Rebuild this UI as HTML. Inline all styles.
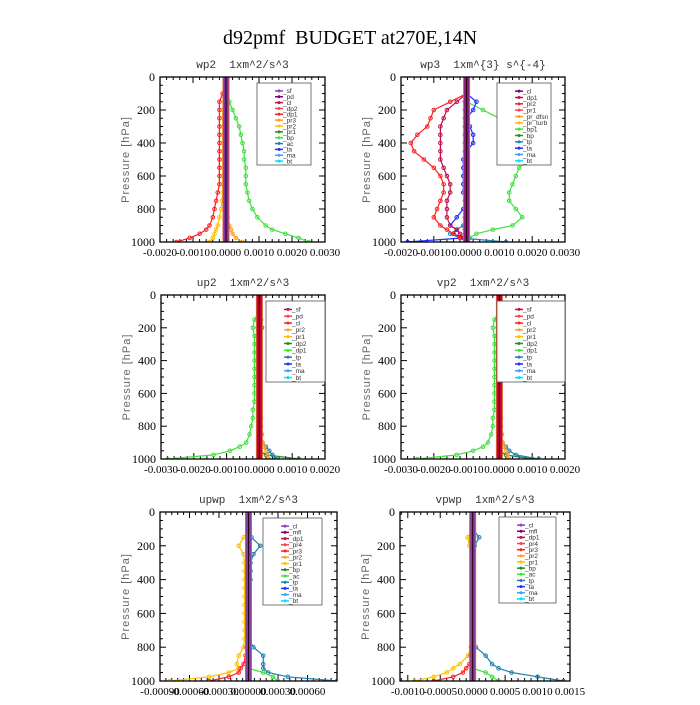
<!DOCTYPE html>
<html><head><meta charset="utf-8"><style>
body{margin:0;background:#fff}
svg text{font-family:"Liberation Serif",serif;white-space:pre}
.st{font-family:"Liberation Mono",monospace;font-size:11px;fill:#333}
.yt{font-family:"Liberation Sans",sans-serif;font-size:11px;fill:#666;letter-spacing:1px}
.lg{font-family:"Liberation Sans",sans-serif;font-size:6.5px;fill:#333}
</style></head><body>
<svg id="c" width="700" height="700">
<text x="350" y="44" text-anchor="middle" font-size="20" xml:space="preserve">d92pmf  BUDGET at270E,14N</text>
</svg>
<script>
const levels=[0,50,100,150,200,250,300,350,400,450,500,550,600,650,700,750,800,850,900,925,950,975,1000];
// values in units of 1e-4
const wp2_bp=[0,0,0,1,2,3,4,4.5,5,5.5,5.5,6,6,6,6.5,7,8,9.5,12,14,18,22,25];
const wp2_dp1=[0,0,-1,-2,-2,-2,-2,-2,-2,-2,-2,-2,-2,-2,-2.5,-3,-3.5,-4,-5,-6,-8,-11,-15];
const wp2_pr2=[0,0,0,-0.5,-1,-1,-1,-1,-1,-1,-1,-1,-1,-1,-1,-1.2,-1.5,-2,-2.5,-3,-3.5,-4,-5];
const wp2_pr3=[0,0,0,0,0,0,0,0,0,0,0,0,0,0,0,0,0.3,0.5,1,1.5,2,3,5];
const wp3_pr2=[0,0,0,-5,-10,-11,-12,-15,-17,-16,-13,-10,-8,-7,-7,-8,-9,-10,-8,-6,-4,-2,0];
const wp3_dp1=[0,0,0,-3,-6,-7,-8,-8,-8,-8,-8,-7,-6,-5,-5,-6,-6,-6,-5,-3,-2,-1,0];
const wp3_bp1=[0,0,0,0,5,10,13,16,20,21,19,16,15,14,13,13,15,17,14,8,3,1,0];
const wp3_ta=[0,0,0,3,2,0,1,2,2,0,-1,-1,-1,-1,-1,0,-1,-3,-5,-3,-4,-1,-18];
const wp3_tp=[0,0,0,0,0,0,0,0,0,0,0,0,0,0,0,0,0,0,-1,-3,-5,-2,12];
const wp3_cl=[0,0,0,-0.5,-0.5,-0.5,-0.5,-0.5,-0.5,-0.5,-0.5,-0.5,-0.5,-0.5,-0.5,-0.5,-0.5,-0.5,-0.5,-0.5,-0.5,-0.5,0];
const up2_dp1=[0,0,0,-1.5,-2,-1.5,-1.5,-1.5,-1.5,-1.5,-1.5,-1.5,-1.5,-1.5,-2,-2,-2.5,-3,-4,-6,-9,-14,-28];
const up2_dp2=[0,0,0,-0.5,-0.5,-0.5,-0.5,-0.5,-0.5,-0.5,-0.5,0,0,0,0,0,0,0,0,0,0,2,12];
const up2_tp=[0,0,0,0.5,0.8,0.3,0,0,0,0,0,0,0,0,0,0,0,0.5,1,2,3,4,5];
const up2_pr2=[0,0,0,0.3,0.3,0.3,0.3,0.3,0.3,0.3,0.3,0.3,0.3,0.3,0.3,0.5,0.5,0.8,1,1.5,2,2.5,3];
const vp2_dp1=[0,0,0,-1.5,-2,-1.5,-1.5,-1.5,-1.5,-1.5,-1.5,-1.5,-1.5,-1.5,-1.5,-2,-2,-2.5,-3.5,-5,-8,-13,-25];
const vp2_dp2=[0,0,0,-0.5,-0.5,-0.5,-0.5,-0.5,-0.5,-0.5,0,0,0,0,0,0,0,0,0,0,0,2,10];
const vp2_tp=[0,0,0,0.5,1,0.3,0,0,0,0,0,0,0,0,0,0,0,0.5,1,2,3,5,12];
const vp2_pr2=[0,0,0,0.3,0.3,0.3,0.3,0.3,0.3,0.3,0.3,0.3,0.3,0.3,0.3,0.5,0.5,0.8,1,1.5,2,2.5,3];
const upwp_pr1=[0,0,0,-0.5,-1,-0.5,-0.4,-0.4,-0.4,-0.4,-0.4,-0.4,-0.4,-0.4,-0.4,-0.4,-0.5,-1,-1.2,-1,-2,-4,-8];
const upwp_tp=[0,0,0,0.3,1.2,0.5,0.2,0.2,0.2,0,0,0,0,0,0,0,0.5,1.5,1.5,1.5,2,4,9];
const upwp_bp=[0,0,0,0,0,0,0,0,0,0,0,0,0,0,0,0,0,0,0,0,1.5,2.5,3];
const upwp_dp1=[0,0,0,0,0,0,0,0,0,0,0,0,0,0,0,0,-0.2,-0.3,-0.5,-0.8,-1,-2,-4];
const vpwp_pr1=[0,0,0,-0.8,-0.5,-0.2,0,0,0,0,0,0,0,0,0,0,-0.3,-0.7,-2,-3,-4,-6,-9];
const vpwp_tp=[0,0,0,1,0.3,0,0,0,0,0,0,0,0,0,0,0,0.5,2,3,4,6,10,14];
const vpwp_bp=[0,0,0,0,0,0,0,0,0,0,0,0,0,0,0,0,0,0,0,0,2,3,4];
const vpwp_dp1=[0,0,0,0,0,0,0,0,0,0,0,0,0,0,0,0,-0.2,-0.3,-0.5,-1,-1.5,-3,-6];
const yTicks=[0,200,400,600,800,1000];
const C={sf:"#9040c0",pd:"#800080",cl:"#c0104a",dp2:"#ff4050",dp1:"#ff2020",pr3:"#ffa020",pr2:"#ffc000",pr1:"#209020",bp:"#40e040",ac:"#2080b0",ta:"#2030ff",ma:"#40a0ff",bt:"#00e0ff"};
const NS="http://www.w3.org/2000/svg",svg=document.getElementById('c');
function mk(t,a,p){const e=document.createElementNS(NS,t);for(const k in a)e.setAttribute(k,a[k]);(p||svg).appendChild(e);return e;}
const panels=[
 {name:'wp2',title:'wp2  1xm^2/s^3',bar:'#8030a0',x0:160,x1:325,y0:77,y1:242,min:-20,max:30,ticks:[-20,-10,0,10,20,30],fmt:v=>(v/1e4).toFixed(4),
  series:[[wp2_bp,C.bp],[wp2_pr2,C.pr2],[wp2_pr3,C.pr3],[wp2_dp1,C.dp1]],
  leg:{x:257,y:83,w:54,h:82,items:[['_sf',C.sf],['_pd',C.pd],['_cl',C.cl],['_dp2',C.dp2],['_dp1',C.dp1],['_pr3',C.pr3],['_pr2',C.pr2],['_pr1',C.pr1],['_bp',C.bp],['_ac',C.ac],['_ta',C.ta],['_ma',C.ma],['_bt',C.bt]]}},
 {name:'wp3',title:'wp3  1xm^{3} s^{-4}',bar:'#802080',x0:401,x1:565,y0:77,y1:242,min:-20,max:30,ticks:[-20,-10,0,10,20,30],fmt:v=>(v/1e4).toFixed(4),
  series:[[wp3_bp1,C.bp],[wp3_ta,C.ta],[wp3_tp,C.ac],[wp3_pr2,C.dp1],[wp3_dp1,C.cl],[wp3_cl,C.pd]],
  leg:{x:497,y:83,w:54,h:82,items:[['_cl',C.pd],['_dp1',C.cl],['_pr2',C.dp1],['_pr1',C.dp2],['_pr_dfsn',C.pr3],['_pr_turb',C.pr2],['_bp1',C.bp],['_bp',C.pr1],['_tp',C.ac],['_ta',C.ta],['_ma',C.ma],['_bt',C.bt]]}},
 {name:'up2',title:'up2  1xm^2/s^3',bar:'#c00040',x0:161,x1:325,y0:295,y1:459,min:-30,max:20,ticks:[-30,-20,-10,0,10,20],fmt:v=>(v/1e4).toFixed(4),
  series:[[up2_dp1,C.bp],[up2_dp2,C.pr1],[up2_tp,C.ac],[up2_pr2,C.pr3]],
  leg:{x:266,y:301,w:59,h:81,items:[['_sf',C.cl],['_pd',C.dp2],['_cl',C.dp1],['_pr2',C.pr3],['_pr1',C.pr2],['_dp2',C.pr1],['_dp1',C.bp],['_tp',C.ac],['_ta',C.ta],['_ma',C.ma],['_bt',C.bt]]}},
 {name:'vp2',title:'vp2  1xm^2/s^3',bar:'#c00040',x0:401,x1:565,y0:295,y1:459,min:-30,max:20,ticks:[-30,-20,-10,0,10,20],fmt:v=>(v/1e4).toFixed(4),
  series:[[vp2_dp1,C.bp],[vp2_dp2,C.pr1],[vp2_tp,C.ac],[vp2_pr2,C.pr3]],
  leg:{x:497,y:301,w:68,h:81,items:[['_sf',C.cl],['_pd',C.dp2],['_cl',C.dp1],['_pr2',C.pr3],['_pr1',C.pr2],['_dp2',C.pr1],['_dp1',C.bp],['_tp',C.ac],['_ta',C.ta],['_ma',C.ma],['_bt',C.bt]]}},
 {name:'upwp',title:'upwp  1xm^2/s^3',bar:'#8040a0',x0:160,x1:337,y0:512,y1:681,min:-9,max:9,ticks:[-9,-6,-3,0,3,6],fmt:v=>(v/1e4).toFixed(5),
  series:[[upwp_pr1,C.pr2],[upwp_tp,C.ac],[upwp_bp,C.bp],[upwp_dp1,C.dp1]],
  leg:{x:263,y:518,w:59,h:87,items:[['_cl',C.sf],['_mfl',C.pd],['_dp1',C.cl],['_pr4',C.dp2],['_pr3',C.dp1],['_pr2',C.pr3],['_pr1',C.pr2],['_bp',C.pr1],['_ac',C.bp],['_tp',C.ac],['_ta',C.ta],['_ma',C.ma],['_bt',C.bt]]}},
 {name:'vpwp',title:'vpwp  1xm^2/s^3',bar:'#8040a0',x0:400,x1:570,y0:512,y1:681,min:-11.2,max:15,ticks:[-10,-5,0,5,10,15],fmt:v=>(v/1e4).toFixed(4),
  series:[[vpwp_pr1,C.pr2],[vpwp_tp,C.ac],[vpwp_bp,C.bp],[vpwp_dp1,C.dp1]],
  leg:{x:499,y:517,w:57,h:86,items:[['_cl',C.sf],['_mfl',C.pd],['_dp1',C.cl],['_pr4',C.dp2],['_pr3',C.dp1],['_pr2',C.pr3],['_pr1',C.pr2],['_bp',C.pr1],['_ac',C.bp],['_tp',C.ac],['_ta',C.ta],['_ma',C.ma],['_bt',C.bt]]}}
];
panels.forEach(P=>{
 const g=mk('g',{});
 
 
 const X=v=>P.x0+(v-P.min)/(P.max-P.min)*(P.x1-P.x0);
 const Y=p=>P.y0+p/1000*(P.y1-P.y0);
 const t=mk('text',{x:(P.x0+P.x1)/2,y:P.y0-9,'text-anchor':'middle',class:'st','xml:space':'preserve'},g);t.textContent=P.title;
 
 const yt=mk('text',{x:0,y:0,class:'yt','text-anchor':'middle',transform:`translate(${P.x0-31},${(P.y0+P.y1)/2}) rotate(-90)`},g);yt.textContent='Pressure [hPa]';
 
 for(let p=0;p<=1000;p+=50){const L=p%200==0?6:3;mk('line',{x1:P.x0,x2:P.x0+L,y1:Y(p),y2:Y(p),stroke:'#000'},g);mk('line',{x1:P.x1,x2:P.x1-L,y1:Y(p),y2:Y(p),stroke:'#000'},g);}
 const step=(P.ticks[1]-P.ticks[0])/5;
 for(let v=P.ticks[0]-5*step;v<=P.max+1e-9;v+=step){if(v<P.min-1e-9)continue;const maj=Math.abs(Math.round((v-P.ticks[0])/step)%5)==0;const L=maj?6:3;
  mk('line',{x1:X(v),x2:X(v),y1:P.y1,y2:P.y1-L,stroke:'#000'},g);mk('line',{x1:X(v),x2:X(v),y1:P.y0,y2:P.y0+L,stroke:'#000'},g);}
 yTicks.forEach(p=>{const e=mk('text',{x:P.x0-5,y:Y(p)+4,'text-anchor':'end','font-size':12},g);e.textContent=p;
  });
 P.ticks.forEach(v=>{const e=mk('text',{x:X(v),y:P.y1+14,'text-anchor':'middle','font-size':11},g);e.textContent=v==0?(0).toFixed(P.name=='upwp'?5:4):P.fmt(v);
  });
 const cp='cp'+P.name;const d=mk('clipPath',{id:cp},g);mk('rect',{x:P.x0,y:P.y0,width:P.x1-P.x0,height:P.y1-P.y0},d);
 const sg=mk('g',{'clip-path':`url(#${cp})`},g);
 P.series.forEach(([vals,col])=>{
  const pts=vals.map((v,i)=>X(v).toFixed(1)+','+Y(levels[i]).toFixed(1)).join(' ');
  const pl=mk('polyline',{points:pts,fill:'none',stroke:col,'stroke-width':1.2},sg);
  
  vals.forEach((v,i)=>{const m=mk('circle',{cx:X(v),cy:Y(levels[i]),r:1.8,fill:'none',stroke:col,'stroke-width':1},sg);
   });
 });
 const z=mk('rect',{x:X(0)-3,y:P.y0,width:6,height:P.y1-P.y0,fill:P.bar,stroke:'#e06030','stroke-width':1},sg);
 
 mk('line',{x1:X(0),x2:X(0),y1:P.y0,y2:P.y1,stroke:'#200010','stroke-width':1},sg);
 mk('rect',{x:P.x0,y:P.y0,width:P.x1-P.x0,height:P.y1-P.y0,fill:'none',stroke:'#000','stroke-width':1.3},g);
 const lg=P.leg;const lgg=mk('g',{},g);
 
 mk('rect',{x:lg.x,y:lg.y,width:lg.w,height:lg.h,fill:'#fff',stroke:'#555','stroke-width':0.8},lgg);
 const dy=(lg.h-6)/lg.items.length;
 lg.items.forEach(([n,col],i)=>{const yy=lg.y+5+dy*(i+0.5);
  mk('line',{x1:lg.x+18,x2:lg.x+26,y1:yy,y2:yy,stroke:col,'stroke-width':1.5},lgg);
  mk('circle',{cx:lg.x+22,cy:yy,r:1.5,fill:col},lgg);
  const e=mk('text',{x:lg.x+26,y:yy+2.3,class:'lg'},lgg);e.textContent=n;
  });
});
</script>
</body></html>
